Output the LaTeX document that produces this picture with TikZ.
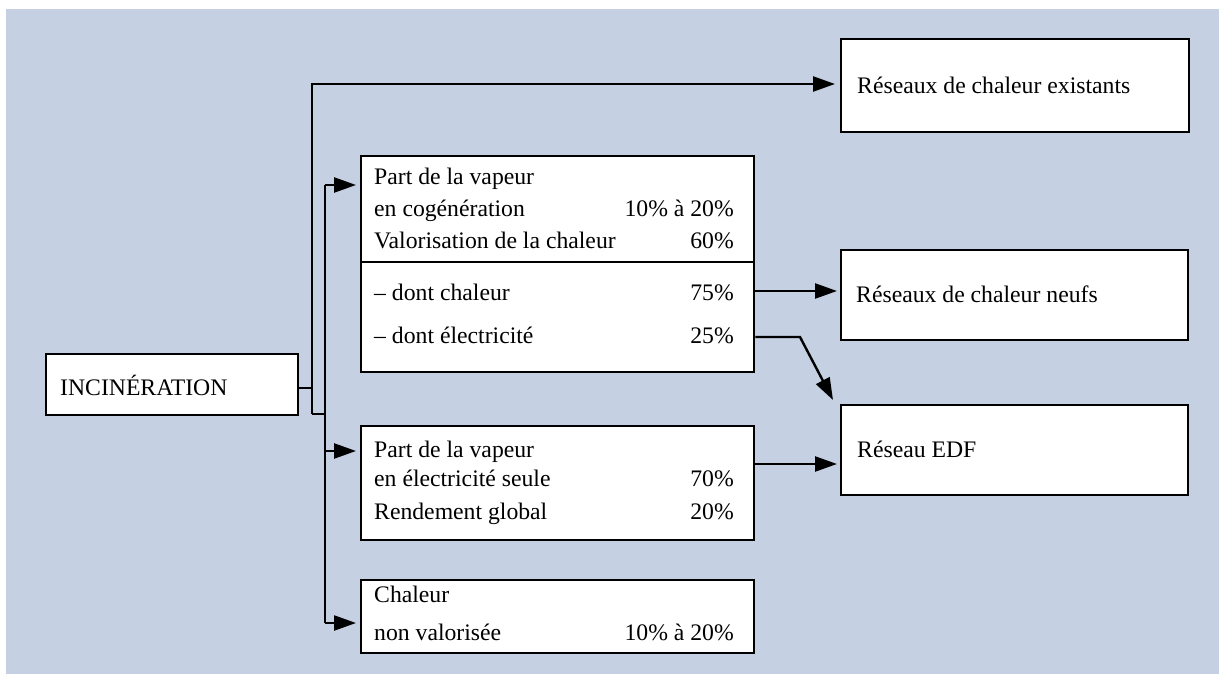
\documentclass[tikz,border=0pt]{standalone}
\usepackage{fontspec}
\setmainfont{Liberation Serif}
\usetikzlibrary{arrows.meta,calc}
\definecolor{bgblue}{RGB}{197,208,226}
\begin{document}
\begin{tikzpicture}[x=1pt,y=-1pt,
  box/.style={draw, line width=2.4pt, fill=white, inner sep=0pt, anchor=north west},
  txt/.style={inner sep=0pt, font=\fontsize{23.7}{28}\selectfont},
  lt/.style={txt, anchor=base west},
  rt/.style={txt, anchor=base east},
  conn/.style={line width=2.4pt},
  arr/.style={line width=2.4pt, -{Triangle[length=22pt,width=15pt]}}]
\useasboundingbox (0,0) rectangle (1219,674);
\fill[bgblue] (6,9) rectangle (1219,674);

% boxes
\node[box, minimum width=252pt, minimum height=61pt] (incin) at (45,353) {};
\node[box, minimum width=348pt, minimum height=93pt] (ex) at (840,38) {};
\node[box, minimum width=347pt, minimum height=90pt] (neuf) at (840,249) {};
\node[box, minimum width=347pt, minimum height=90pt] (edf) at (840,404) {};
\node[box, minimum width=393pt, minimum height=216pt] (b1) at (360,155) {};
\node[box, minimum width=393pt, minimum height=114pt] (b2) at (360,425) {};
\node[box, minimum width=393pt, minimum height=73pt] (b3) at (360,579) {};

% divider in b1
\draw[conn] ($(b1.north west)+(0,107)$) -- ($(b1.north east)+(0,107)$);

% texts
\node[lt] (tin) at (60,395) {INCINÉRATION};
\node[lt] (tex) at (857,94) {Réseaux de chaleur existants};
\node[lt] (tne) at (856,302) {Réseaux de chaleur neufs};
\node[lt] (ted) at (857,457) {Réseau EDF};

\node[lt] (p1a) at (374,185) {Part de la vapeur};
\node[lt] (p1b) at (374,217) {en cogénération};
\node[rt] (p1bv) at (734,217) {10\% à 20\%};
\node[lt] (p1c) at (374,248) {Valorisation de la chaleur};
\node[rt] (p1cv) at (734,248) {60\%};
\node[lt] (p1d) at (374,300) {– dont chaleur};
\node[rt] (p1dv) at (734,300) {75\%};
\node[lt] (p1e) at (374,343) {– dont électricité};
\node[rt] (p1ev) at (734,343) {25\%};

\node[lt] (p2a) at (374,457) {Part de la vapeur};
\node[lt] (p2b) at (374,486) {en électricité seule};
\node[rt] (p2bv) at (734,486) {70\%};
\node[lt] (p2c) at (374,519) {Rendement global};
\node[rt] (p2cv) at (734,519) {20\%};

\node[lt] (p3a) at (374,602) {Chaleur};
\node[lt] (p3b) at (374,640) {non valorisée};
\node[rt] (p3bv) at (734,640) {10\% à 20\%};

% connectors
\coordinate (j1) at (312,388);
\coordinate (t1) at (312,84);
\coordinate (t2) at (312,414);
\coordinate (u1) at (325,414);
\coordinate (a1) at (325,185);
\coordinate (a2) at (325,451);
\coordinate (a3) at (325,623);
\coordinate (r1) at ($(b1.north east)+(0,136)$);
\coordinate (r2) at ($(b1.north east)+(0,182)$);
\coordinate (r3) at ($(b2.north east)+(0,39)$);
\coordinate (k) at (800,337);

\draw[conn] (incin.east |- j1) -- (j1);
\draw[arr, shorten >=5pt] (t2) -- (t1) -- (ex.west |- t1);
\draw[conn] (t2) -- (u1);
\draw[conn] (a1) -- (a3);
\draw[arr, shorten >=4pt] (a1) -- (b1.west |- a1);
\draw[arr, shorten >=4pt] (a2) -- (b2.west |- a2);
\draw[arr, shorten >=4pt] (a3) -- (b3.west |- a3);
\draw[arr, shorten >=3pt] (r1) -- (neuf.west |- r1);
\draw[arr] (r2) -- (k) -- ($(edf.north west)+(-7,-4)$);
\draw[arr, shorten >=3pt] (r3) -- (edf.west |- r3);
\end{tikzpicture}
\end{document}
